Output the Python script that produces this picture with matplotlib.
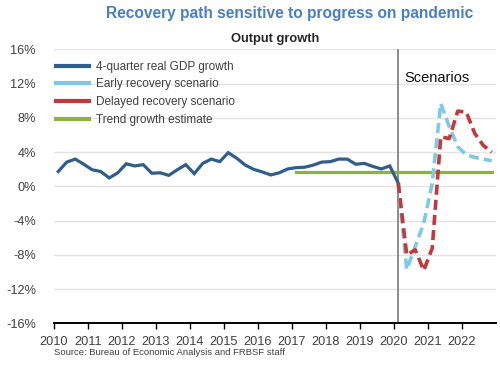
import numpy as np
import matplotlib.pyplot as plt
from matplotlib.lines import Line2D

plt.rcParams['font.family'] = ['Liberation Sans', 'DejaVu Sans']

# 4-quarter real GDP growth, 2010Q1 - 2020Q1 (percent)
gdp_start = (2010, 1)
gdp_growth = [1.75, 2.85, 3.2, 2.6,
              1.95, 1.75, 1.0, 1.6,
              2.65, 2.4, 2.55, 1.55,
              1.6, 1.3, 1.95, 2.55,
              1.5, 2.7, 3.2, 2.9,
              3.95, 3.3, 2.5, 2.0,
              1.7, 1.35, 1.6, 2.05,
              2.2, 2.25, 2.5, 2.85,
              2.9, 3.2, 3.2, 2.6,
              2.7, 2.35, 2.05, 2.4,
              0.4]

# scenarios, 2020Q1 - 2022Q4
scen_start = (2020, 1)
early = [0.4, -9.7, -7.0, -4.3, 0.4, 9.7, 7.0, 4.65, 3.7, 3.4, 3.2, 3.0]
delayed = [0.4, -8.0, -7.4, -9.8, -7.2, 5.8, 5.6, 8.8, 8.7, 6.2, 4.8, 4.0]

# trend growth estimate, 2017Q1 - 2022Q4
trend_start = (2017, 1)
trend_end = (2022, 4)
trend_value = 1.75

years = list(range(2010, 2023))
yticks = [16, 12, 8, 4, 0, -4, -8, -12, -16]


def quarter_pos(year, q, n=1):
    # mid-quarter position on a year axis
    start = year + (q - 0.5) / 4
    return start + np.arange(n) * 0.25


c_gdp = '#2f5e8c'
c_early = '#7ecae6'
c_delayed = '#c1393c'
c_trend = '#8cb33c'

fig = plt.figure(figsize=(5, 3.65), dpi=100)
ax = fig.add_axes([0.108, 0.1137, 0.884, 0.7507])

x_gdp = quarter_pos(*gdp_start, len(gdp_growth))
x_scen = quarter_pos(*scen_start, len(early))
n_trend = (trend_end[0] - trend_start[0]) * 4 + trend_end[1] - trend_start[1] + 1
x_trend = quarter_pos(*trend_start, n_trend)

ax.plot(x_trend, [trend_value] * n_trend, color=c_trend, lw=2.3, zorder=3)
ax.plot(x_gdp, gdp_growth, color=c_gdp, lw=2.3, zorder=4, solid_joinstyle='miter')
ax.plot(x_scen, early, color=c_early, lw=2.6, dashes=(2.8, 1.4), zorder=5)
ax.plot(x_scen, delayed, color=c_delayed, lw=2.6, dashes=(2.8, 1.4), zorder=5)

ax.axvline(quarter_pos(*scen_start)[0], color='#8c8c8c', lw=1.4, zorder=2)
ax.text(2020.3, 12.7, 'Scenarios', fontsize=10.5, color='#111111', ha='left', va='center')

ax.set_xlim(2010, 2023)
ax.set_ylim(-16, 16)
ax.set_yticks(yticks)
ax.set_yticklabels([f'{v}%' for v in yticks])
ax.set_xticks(years)
ax.set_xticklabels([str(y) for y in years])
ax.grid(axis='y', color='#e3e3e3', lw=1.0, zorder=0)
ax.set_axisbelow(True)

for s in ['top', 'right', 'left']:
    ax.spines[s].set_visible(False)
ax.spines['bottom'].set_linewidth(1.4)
ax.spines['bottom'].set_color('black')
ax.tick_params(axis='y', length=0, pad=13, labelsize=9.2, labelcolor='#404040')
ax.tick_params(axis='x', length=4, width=1, direction='out', pad=5,
               labelsize=9.2, labelcolor='#404040')

handles = [Line2D([], [], color=c_gdp, lw=3),
           Line2D([], [], color=c_early, lw=3),
           Line2D([], [], color=c_delayed, lw=3),
           Line2D([], [], color=c_trend, lw=3)]
labels = ['4-quarter real GDP growth', 'Early recovery scenario',
          'Delayed recovery scenario', 'Trend growth estimate']
leg = ax.legend(handles, labels, loc='upper left', bbox_to_anchor=(-0.012, 0.985),
                frameon=False, fontsize=8.5, handlelength=2.8, handletextpad=0.6,
                labelspacing=0.48, borderaxespad=0.2)
for t in leg.get_texts():
    t.set_color('#404040')

fig.text(0.58, 0.962, 'Recovery path sensitive to progress on pandemic',
         ha='center', va='center', fontsize=11.2, fontweight='bold', color='#4a7fc1')
fig.text(0.55, 0.893, 'Output growth', ha='center', va='center',
         fontsize=9.3, fontweight='bold', color='#262626')
fig.text(0.108, 0.033, 'Source: Bureau of Economic Analysis and FRBSF staff',
         ha='left', va='center', fontsize=6.8, color='#404040')

fig.savefig('out.png', dpi=100)
